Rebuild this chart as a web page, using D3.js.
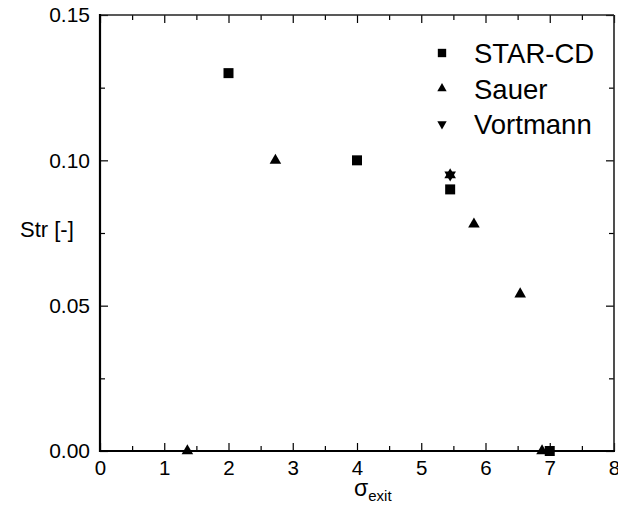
<!DOCTYPE html>
<html>
<head>
<meta charset="utf-8">
<script src="https://cdn.jsdelivr.net/npm/d3@7"></script>
<style>
  html, body { margin: 0; padding: 0; background: #fff; }
  svg { display: block; font-family: "Liberation Sans", Arial, sans-serif; }
</style>
</head>
<body>
<svg id="chart" width="618" height="506"></svg>
<script>
// Strouhal number vs. exit cavitation number
const starCdX = [2.0, 4.0, 5.45, 7.0];
const starCdY = [0.13, 0.10, 0.09, 0.0];

const sauerX = [1.36, 2.73, 5.45, 5.82, 6.54, 6.88];
const sauerY = [0.0, 0.10, 0.095, 0.078, 0.054, 0.0];

const vortmannX = [5.45];
const vortmannY = [0.095];

const xTicks = [0, 1, 2, 3, 4, 5, 6, 7, 8];
const yTicks = [0.00, 0.05, 0.10, 0.15];
const legendNames = ["STAR-CD", "Sauer", "Vortmann"];

const svg = d3.select("#chart");
const plotL = 100, plotR = 614, plotT = 15, plotB = 451;

const x = d3.scaleLinear().domain([0, 8]).range([plotL, plotR]);
const y = d3.scaleLinear().domain([0, 0.15]).range([plotB, plotT]);

const xMinor = d3.range(0.5, 8, 1);
const yMinor = d3.range(0.025, 0.15, 0.05);

function styleAxis(g) {
  g.select(".domain").remove();
  g.selectAll("line").attr("stroke", "#000").attr("stroke-width", 1.2);
}

// bottom axis (ticks point inward)
svg.append("g").attr("transform", `translate(0,${plotB})`)
  .call(d3.axisBottom(x).tickValues(xTicks).tickSize(-8).tickPadding(9).tickFormat(d3.format("d")))
  .call(styleAxis)
  .call(g => g.selectAll("text").attr("font-size", 20.5).attr("fill", "#000").attr("font-family", "Liberation Sans, Arial, sans-serif"));
svg.append("g").attr("transform", `translate(0,${plotB})`)
  .call(d3.axisBottom(x).tickValues(xMinor).tickSize(-5).tickFormat(""))
  .call(styleAxis);

// top axis
svg.append("g").attr("transform", `translate(0,${plotT})`)
  .call(d3.axisTop(x).tickValues(xTicks).tickSize(-8).tickFormat(""))
  .call(styleAxis);
svg.append("g").attr("transform", `translate(0,${plotT})`)
  .call(d3.axisTop(x).tickValues(xMinor).tickSize(-5).tickFormat(""))
  .call(styleAxis);

// left axis
svg.append("g").attr("transform", `translate(${plotL},0)`)
  .call(d3.axisLeft(y).tickValues(yTicks).tickSize(-8).tickPadding(10).tickFormat(d3.format(".2f")))
  .call(styleAxis)
  .call(g => g.selectAll("text").attr("font-size", 21).attr("fill", "#000").attr("font-family", "Liberation Sans, Arial, sans-serif"));
svg.append("g").attr("transform", `translate(${plotL},0)`)
  .call(d3.axisLeft(y).tickValues(yMinor).tickSize(-5).tickFormat(""))
  .call(styleAxis);

// right axis
svg.append("g").attr("transform", `translate(${plotR},0)`)
  .call(d3.axisRight(y).tickValues(yTicks).tickSize(-8).tickFormat(""))
  .call(styleAxis);
svg.append("g").attr("transform", `translate(${plotR},0)`)
  .call(d3.axisRight(y).tickValues(yMinor).tickSize(-5).tickFormat(""))
  .call(styleAxis);

// frame: heavier left/bottom, lighter top/right
const frame = svg.append("g").attr("fill", "none");
frame.append("line").attr("x1", plotL).attr("x2", plotR).attr("y1", plotT).attr("y2", plotT)
  .attr("stroke", "#222").attr("stroke-width", 1.6);
frame.append("line").attr("x1", plotR).attr("x2", plotR).attr("y1", plotT).attr("y2", plotB)
  .attr("stroke", "#222").attr("stroke-width", 1.6);
frame.append("line").attr("x1", plotL).attr("x2", plotL).attr("y1", plotT - 1).attr("y2", plotB + 1)
  .attr("stroke", "#000").attr("stroke-width", 2.2);
frame.append("line").attr("x1", plotL - 1).attr("x2", plotR + 1).attr("y1", plotB).attr("y2", plotB)
  .attr("stroke", "#000").attr("stroke-width", 2.2);

// axis titles
svg.append("text")
  .attr("x", 20).attr("y", 237)
  .attr("font-size", 22).attr("fill", "#000")
  .text("Str [-]");

const xt = svg.append("text")
  .attr("x", 354).attr("y", 496)
  .attr("font-size", 23).attr("fill", "#000");
xt.append("tspan").text("σ");
xt.append("tspan").attr("font-size", 15).attr("dy", 5).text("exit");

// markers
const squareSym = d3.symbol().type(d3.symbolSquare);
const triSym = d3.symbol().type(d3.symbolTriangle);

function drawPoints(xs, ys, sym, size, rotate) {
  svg.append("g").selectAll("path")
    .data(xs.map((v, i) => [v, ys[i]]))
    .join("path")
    .attr("d", sym.size(size)())
    .attr("transform", d => `translate(${x(d[0])},${y(d[1])}) rotate(${rotate})`)
    .attr("fill", "#000");
}

drawPoints(starCdX, starCdY, squareSym, 100, 0);
drawPoints(sauerX, sauerY, triSym, 58, 0);
drawPoints(vortmannX, vortmannY, triSym, 58, 180);

// legend
const legend = svg.append("g");
const legendSyms = [
  { sym: squareSym, size: 70, rot: 0 },
  { sym: triSym, size: 38, rot: 0 },
  { sym: triSym, size: 38, rot: 180 }
];
legendNames.forEach((name, i) => {
  const cy = 53 + i * 35.5;
  legend.append("path")
    .attr("d", legendSyms[i].sym.size(legendSyms[i].size)())
    .attr("transform", `translate(442,${cy}) rotate(${legendSyms[i].rot})`)
    .attr("fill", "#000");
  legend.append("text")
    .attr("x", 474).attr("y", cy + 10)
    .attr("font-size", 27.5).attr("fill", "#000")
    .text(name);
});
</script>
</body>
</html>
